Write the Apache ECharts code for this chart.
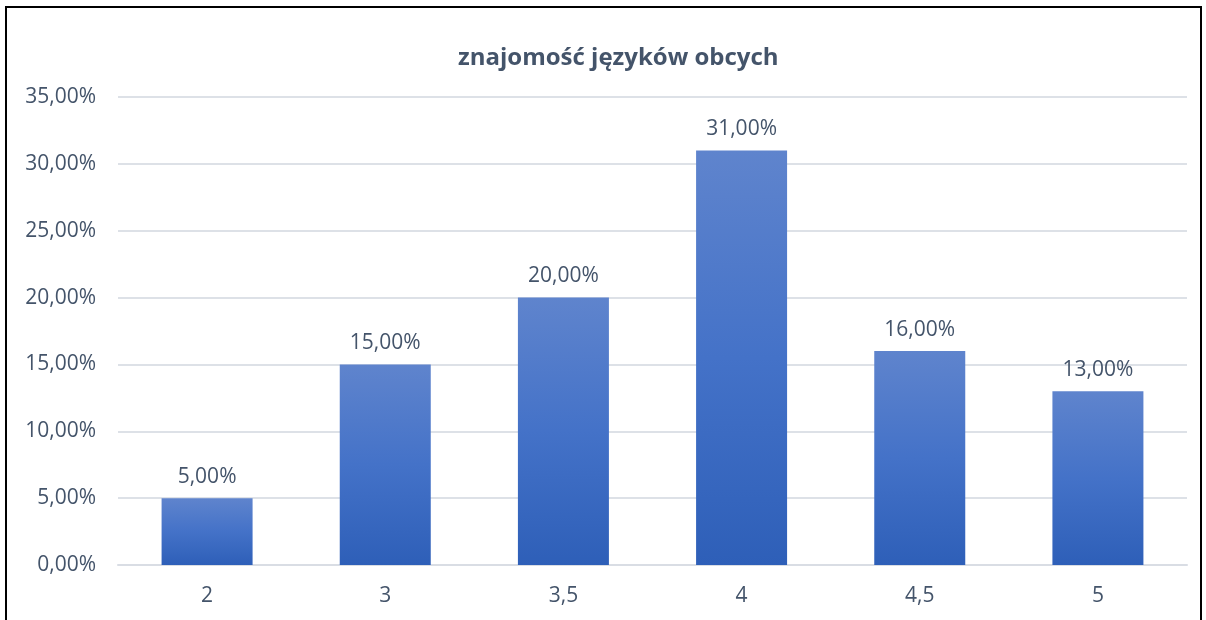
<!DOCTYPE html>
<html>
<head>
<meta charset="utf-8">
<script src="https://cdn.jsdelivr.net/npm/echarts@6/dist/echarts.min.js"></script>
<style>
  html, body { margin: 0; padding: 0; background: #fff; }
  #frame { position: absolute; left: 5px; top: 6px; width: 1193px; height: 640px; border: 2px solid #000; }
  #chart { position: absolute; left: 0; top: 0; width: 1206px; height: 620px; }
</style>
</head>
<body>
<div id="frame"></div>
<div id="chart"></div>
<script>
const categories = ['2', '3', '3,5', '4', '4,5', '5']
const values = [5, 15, 20, 31, 16, 13]
const yTicks = [0, 5, 10, 15, 20, 25, 30, 35]

const fmt = v => v.toFixed(2).replace('.', ',') + '%'
const textColor = '#44546a'
const font = 'Open Sans, Liberation Sans, sans-serif'

let oChart = echarts.init(document.getElementById('chart'))
oChart.setOption({
  animation: false,
  title: {
    text: 'znajomość języków obcych',
    left: 453,
    top: 41,
    textStyle: { color: textColor, fontSize: 24, fontWeight: 'bold', fontFamily: font }
  },
  grid: { left: 118, right: 19, top: 97, bottom: 55, containLabel: false },
  xAxis: {
    type: 'category',
    data: categories,
    axisLine: { lineStyle: { color: '#d9dde4', width: 2 } },
    axisTick: { show: false },
    axisLabel: { color: textColor, fontSize: 21, fontFamily: font, margin: 21 }
  },
  yAxis: {
    type: 'value',
    min: yTicks[0],
    max: yTicks[yTicks.length - 1],
    interval: 5,
    axisLine: { show: false },
    axisTick: { show: false },
    splitLine: { lineStyle: { color: '#dde1e7', width: 2 } },
    axisLabel: { color: textColor, fontSize: 21, fontFamily: font, margin: 22, formatter: fmt }
  },
  series: [{
    type: 'bar',
    data: values,
    barWidth: 91,
    itemStyle: {
      color: new echarts.graphic.LinearGradient(0, 0, 0, 1, [
        { offset: 0, color: '#5f84cd' },
        { offset: 0.5, color: '#4472c8' },
        { offset: 1, color: '#2e5fb8' }
      ])
    },
    label: {
      show: true,
      position: 'top',
      distance: 11,
      color: textColor,
      fontSize: 21,
      fontFamily: font,
      formatter: p => fmt(p.value)
    }
  }]
})
</script>
</body>
</html>
